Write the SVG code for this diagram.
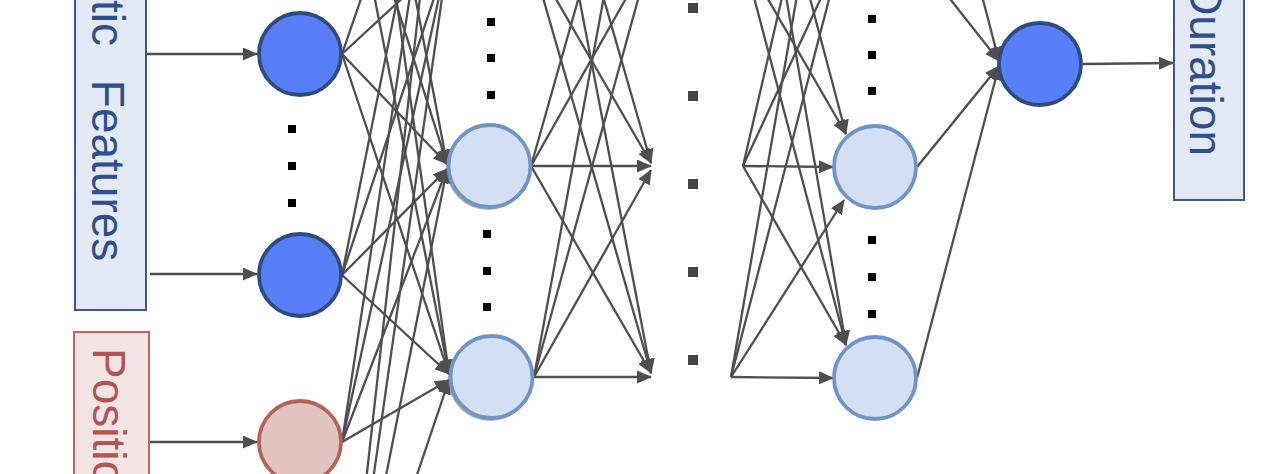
<svg xmlns="http://www.w3.org/2000/svg" width="1266" height="474" viewBox="0 0 1266 474">
<style>
.box-b{fill:#e4eaf5;stroke:#3b598b;stroke-width:2}
.box-r{fill:#f2e4e3;stroke:#ba6663;stroke-width:2}
.lbl{font-family:"Liberation Sans",Arial,sans-serif;font-size:46px}
.lb{fill:#2e4f8a}
.lr{fill:#b05553}
.n-in{fill:#587ef8;stroke:#2f4d7c;stroke-width:3.8}
.n-pos{fill:#e2c5c1;stroke:#b6615b;stroke-width:3.8}
.n-h{fill:#d3dff3;stroke:#6f94c8;stroke-width:3.8}
.shadow{fill:#6a6a6a;opacity:0.55}
.dot{fill:#000}
.gdot{fill:#444}
.c line{stroke:#4f4f4f;stroke-width:2.3;fill:none;marker-end:url(#ah)}
</style>
<defs>
<marker id="ah" markerUnits="userSpaceOnUse" markerWidth="15" markerHeight="13" refX="14" refY="6.5" orient="auto">
<path d="M0,0 L15,6.5 L0,13 z" fill="#4f4f4f"/>
</marker>
</defs>

<g id="box-static">
<rect class="box-b" x="75" y="-20" width="71" height="330"/>
<text class="lbl lb" transform="translate(92,-69) rotate(90)" word-spacing="21">Static Features</text>
</g>
<g id="box-position">
<rect class="box-r" x="74" y="332" width="75" height="160"/>
<text class="lbl lr" transform="translate(93,348) rotate(90)">Position</text>
</g>
<g id="box-duration">
<rect class="box-b" x="1174" y="-20" width="70" height="220"/>
<text class="lbl lb" transform="translate(1190,156) rotate(90)" text-anchor="end">Duration</text>
</g>

<g class="c" id="connectors">
<line x1="147" y1="54" x2="257" y2="54"/>
<line x1="150" y1="274" x2="257" y2="274"/>
<line x1="150" y1="442" x2="257" y2="442"/>
<line x1="342" y1="-388" x2="447" y2="164"/>
<line x1="342" y1="-388" x2="449" y2="374"/>
<line x1="342" y1="-167" x2="447" y2="164"/>
<line x1="342" y1="-167" x2="449" y2="374"/>
<line x1="342" y1="54" x2="448" y2="-254"/>
<line x1="342" y1="54" x2="448" y2="-44"/>
<line x1="342" y1="54" x2="447" y2="164"/>
<line x1="342" y1="54" x2="449" y2="374"/>
<line x1="342" y1="275" x2="448" y2="-254"/>
<line x1="342" y1="275" x2="448" y2="-44"/>
<line x1="342" y1="275" x2="447" y2="169"/>
<line x1="342" y1="275" x2="449" y2="374"/>
<line x1="342" y1="442" x2="448" y2="-254"/>
<line x1="342" y1="442" x2="448" y2="-44"/>
<line x1="342" y1="442" x2="447" y2="169"/>
<line x1="342" y1="442" x2="449" y2="380"/>
<line x1="342" y1="697" x2="448" y2="-254"/>
<line x1="342" y1="697" x2="448" y2="-44"/>
<line x1="342" y1="697" x2="447" y2="169"/>
<line x1="342" y1="697" x2="449" y2="380"/>
<line x1="531" y1="-254" x2="651" y2="163"/>
<line x1="531" y1="-254" x2="651" y2="373"/>
<line x1="531" y1="-44" x2="651" y2="163"/>
<line x1="531" y1="-44" x2="651" y2="373"/>
<line x1="531" y1="166" x2="650" y2="-254"/>
<line x1="531" y1="166" x2="650" y2="-44"/>
<line x1="531" y1="166" x2="651" y2="166"/>
<line x1="531" y1="166" x2="651" y2="373"/>
<line x1="534" y1="377" x2="650" y2="-254"/>
<line x1="534" y1="377" x2="650" y2="-44"/>
<line x1="534" y1="377" x2="651" y2="170"/>
<line x1="534" y1="377" x2="651" y2="377"/>
<line x1="743" y1="-254" x2="846" y2="134"/>
<line x1="743" y1="-254" x2="846" y2="345"/>
<line x1="743" y1="-44" x2="846" y2="134"/>
<line x1="743" y1="-44" x2="846" y2="345"/>
<line x1="743" y1="166" x2="840" y2="-253"/>
<line x1="743" y1="166" x2="840" y2="-43"/>
<line x1="743" y1="166" x2="833" y2="167"/>
<line x1="743" y1="166" x2="846" y2="345"/>
<line x1="731" y1="377" x2="840" y2="-253"/>
<line x1="731" y1="377" x2="840" y2="-43"/>
<line x1="731" y1="377" x2="844" y2="200"/>
<line x1="731" y1="377" x2="833" y2="378"/>
<line x1="917" y1="-253" x2="999" y2="61"/>
<line x1="917" y1="-43" x2="999" y2="61"/>
<line x1="917" y1="167" x2="999" y2="66"/>
<line x1="917" y1="378" x2="999" y2="66"/>
<line x1="1083" y1="64" x2="1173" y2="63"/>
</g>

<g id="in-1"><circle class="n-in" cx="300" cy="54" r="41"/></g>
<g id="in-dots"><rect class="dot" x="288" y="125" width="8" height="8"/><rect class="dot" x="288" y="162" width="8" height="8"/><rect class="dot" x="288" y="199" width="8" height="8"/></g>
<g id="in-2"><circle class="n-in" cx="300" cy="275" r="41"/></g>
<g id="in-pos"><circle class="n-pos" cx="300" cy="442" r="41"/></g>

<g id="h1-dots-top"><rect class="dot" x="487" y="18" width="8" height="8"/><rect class="dot" x="487" y="54" width="8" height="8"/><rect class="dot" x="487" y="91" width="8" height="8"/></g>
<g id="h1-a"><circle class="shadow" cx="488" cy="168" r="42"/><circle class="n-h" cx="489.5" cy="166" r="41"/></g>
<g id="h1-dots-bot"><rect class="dot" x="483" y="230" width="8" height="8"/><rect class="dot" x="483" y="267" width="8" height="8"/><rect class="dot" x="483" y="303" width="8" height="8"/></g>
<g id="h1-b"><circle class="shadow" cx="490" cy="379" r="42"/><circle class="n-h" cx="491.5" cy="377" r="41"/></g>

<g id="mid-dots"><rect class="gdot" x="688" y="3" width="10" height="10"/><rect class="gdot" x="688" y="91" width="10" height="10"/><rect class="gdot" x="688" y="179" width="10" height="10"/><rect class="gdot" x="688" y="267" width="10" height="10"/><rect class="gdot" x="688" y="355" width="10" height="10"/></g>

<g id="hl-dots-top"><rect class="dot" x="868" y="15" width="8" height="8"/><rect class="dot" x="868" y="51" width="8" height="8"/><rect class="dot" x="868" y="87" width="8" height="8"/></g>
<g id="hl-a"><circle class="n-h" cx="875" cy="167" r="41"/></g>
<g id="hl-dots-bot"><rect class="dot" x="868" y="236" width="8" height="8"/><rect class="dot" x="868" y="273" width="8" height="8"/><rect class="dot" x="868" y="310" width="8" height="8"/></g>
<g id="hl-b"><circle class="n-h" cx="875" cy="378" r="41"/></g>

<g id="out"><circle class="n-in" cx="1040" cy="64" r="41"/></g>
</svg>
